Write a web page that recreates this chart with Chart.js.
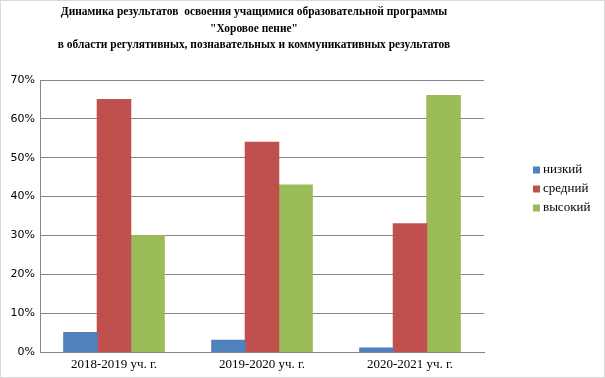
<!DOCTYPE html>
<html lang="ru">
<head>
    <meta charset="UTF-8">
    <title>Динамика результатов</title>
    <script src="https://cdn.jsdelivr.net/npm/chart.js"></script>
    <style>
        body { margin: 0; background: #fff; }
        #wrap { width: 605px; height: 378px; }
    </style>
</head>
<body>
    <div id="wrap"><canvas id="resultsChart" width="605" height="378"></canvas></div>
    <script>
        // chart data
        var titleLines = [
            'Динамика результатов  освоения учащимися образовательной программы',
            '"Хоровое пение"',
            'в области регулятивных, познавательных и коммуникативных результатов'
        ];
        var years = ['2018-2019 уч. г.', '2019-2020 уч. г.', '2020-2021 уч. г.'];
        var seriesNames = ['низкий', 'средний', 'высокий'];
        var lowValues = [5, 3, 1];
        var midValues = [65, 54, 33];
        var highValues = [30, 43, 66];
        var colors = ['#4F81BD', '#C0504D', '#9BBB59'];

        // title, legend and frame drawn by hand so they sit where the original has them
        var decorPlugin = {
            id: 'decor',
            afterDraw: function(chart) {
                var c = chart.ctx;
                c.save();
                c.strokeStyle = '#d9d9d9';
                c.lineWidth = 1;
                c.strokeRect(0.5, 0.5, chart.width - 1, chart.height - 1);

                // the original title font is a bit narrower than Liberation Serif
                c.save();
                c.translate(254, 0);
                c.scale(0.88, 1);
                c.fillStyle = '#000';
                c.textAlign = 'center';
                c.textBaseline = 'middle';
                c.font = 'bold 13px "Liberation Serif"';
                titleLines.forEach(function(line, i) {
                    c.fillText(line, 0, 12 + i * 16.5);
                });
                c.restore();

                c.textAlign = 'left';
                c.textBaseline = 'middle';
                c.font = '13px "Liberation Serif"';
                chart.data.datasets.forEach(function(ds, i) {
                    var y = 170 + i * 19;
                    c.fillStyle = ds.backgroundColor;
                    c.fillRect(533, y - 3.5, 7, 7);
                    c.fillStyle = '#000';
                    c.fillText(ds.label, 543, y);
                });
                c.restore();
            }
        };

        var ctx = document.getElementById('resultsChart').getContext('2d');
        var chart = new Chart(ctx, {
            type: 'bar',
            data: {
                labels: years,
                datasets: [
                    { label: seriesNames[0], data: lowValues, backgroundColor: colors[0] },
                    { label: seriesNames[1], data: midValues, backgroundColor: colors[1] },
                    { label: seriesNames[2], data: highValues, backgroundColor: colors[2] }
                ]
            },
            options: {
                responsive: false,
                animation: false,
                layout: { padding: { top: 80, right: 121, bottom: 0, left: 0 } },
                datasets: {
                    bar: { categoryPercentage: 0.68, barPercentage: 1, borderWidth: 0, inflateAmount: 0.5 }
                },
                plugins: {
                    legend: { display: false },
                    title: { display: false },
                    tooltip: { enabled: false }
                },
                scales: {
                    x: {
                        grid: { display: false, drawTicks: false },
                        border: { display: true, color: '#868686' },
                        ticks: { padding: 5, color: '#000', font: { family: 'Liberation Serif', size: 13 } },
                        afterFit: function(scale) { scale.height = 26; }
                    },
                    y: {
                        min: 0,
                        max: 70,
                        grid: { color: '#868686', drawTicks: false },
                        border: { display: true, color: '#868686' },
                        ticks: {
                            stepSize: 10,
                            padding: 5,
                            color: '#000',
                            font: { family: 'DejaVu Sans', size: 11 },
                            callback: function(v) { return v + '%'; }
                        },
                        afterFit: function(scale) { scale.width = 40; }
                    }
                }
            },
            plugins: [decorPlugin]
        });
    </script>
</body>
</html>
